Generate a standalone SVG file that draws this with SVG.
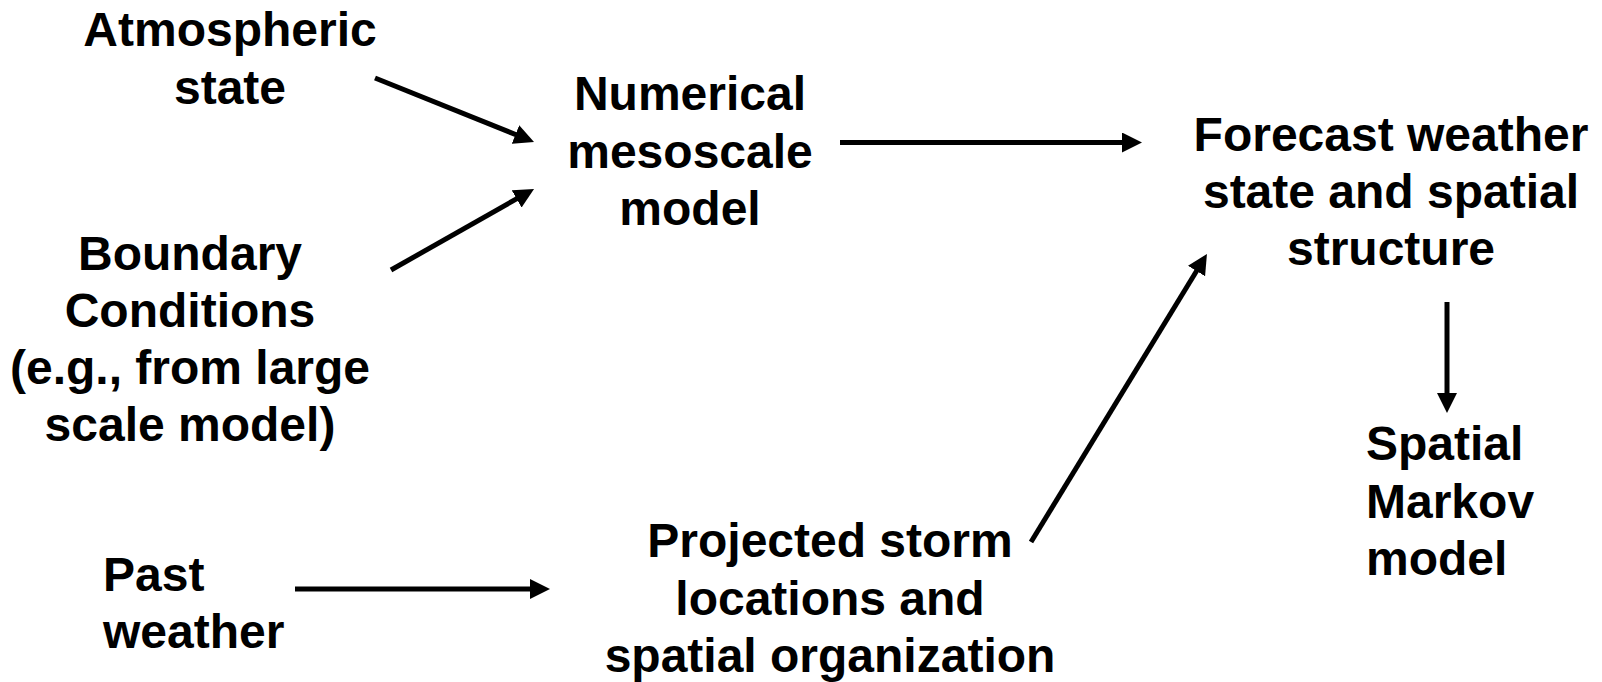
<svg xmlns="http://www.w3.org/2000/svg" width="1602" height="682" viewBox="0 0 1602 682">
<style>
  .t { font-family: "Liberation Sans", Arial, sans-serif; font-weight: bold; font-size: 48px; fill: #000; }
  .c { text-anchor: middle; }
  .l { text-anchor: start; }
  .e { stroke: #000; stroke-width: 5; fill: none; marker-end: url(#ah); }
</style>
<defs>
  <marker id="ah" markerUnits="userSpaceOnUse" markerWidth="20" markerHeight="20" refX="8" refY="10" orient="auto">
    <path d="M0,0 L20,10 L0,20 z" fill="#000"/>
  </marker>
</defs>
<rect width="1602" height="682" fill="#fff"/>
<g id="atmospheric">
  <text class="t c" x="230" y="46">Atmospheric</text>
  <text class="t c" x="230" y="104">state</text>
</g>
<g id="boundary">
  <text class="t c" x="190" y="270">Boundary</text>
  <text class="t c" x="190" y="327">Conditions</text>
  <text class="t c" x="190" y="384">(e.g., from large</text>
  <text class="t c" x="190" y="441">scale model)</text>
</g>
<g id="past">
  <text class="t l" x="103" y="591">Past</text>
  <text class="t l" x="103" y="648">weather</text>
</g>
<g id="numerical">
  <text class="t c" x="690" y="110">Numerical</text>
  <text class="t c" x="690" y="168">mesoscale</text>
  <text class="t c" x="690" y="225">model</text>
</g>
<g id="projected">
  <text class="t c" x="830" y="557">Projected storm</text>
  <text class="t c" x="830" y="615">locations and</text>
  <text class="t c" x="830" y="672">spatial organization</text>
</g>
<g id="forecast">
  <text class="t c" x="1391" y="151">Forecast weather</text>
  <text class="t c" x="1391" y="208">state and spatial</text>
  <text class="t c" x="1391" y="265">structure</text>
</g>
<g id="markov">
  <text class="t l" x="1366" y="460">Spatial</text>
  <text class="t l" x="1366" y="518">Markov</text>
  <text class="t l" x="1366" y="575">model</text>
</g>
<g id="connectors">
  <line class="e" x1="375" y1="78" x2="522.9" y2="137.5"/>
  <line class="e" x1="391" y1="270" x2="523.6" y2="194.9"/>
  <line class="e" x1="840" y1="142.5" x2="1130" y2="142.5"/>
  <line class="e" x1="1031" y1="542" x2="1200.7" y2="264.2"/>
  <line class="e" x1="1447" y1="302" x2="1447" y2="401"/>
  <line class="e" x1="295" y1="589" x2="538" y2="589"/>
</g>
</svg>
